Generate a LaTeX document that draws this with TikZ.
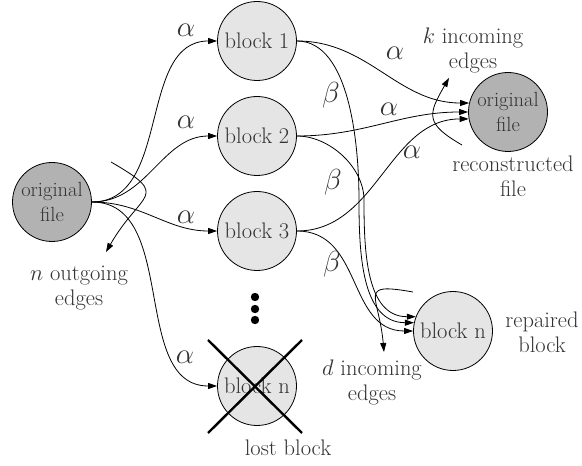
\RequirePackage{fix-cm}
\documentclass[tikz,border=0pt]{standalone}
\usetikzlibrary{arrows.meta, positioning}
\tikzset{>= {Triangle[length = 9pt, width = 6pt]},
         every node/.style = {text = black!80},
         block/.style = {circle, draw, line width = 0.8pt, fill = black!10,
                         minimum size = 79pt, inner sep = 0pt,
                         font = \fontsize{22.5}{25}\selectfont},
         file/.style = {block, fill = black!30, align = center,
                        font = \fontsize{20.5}{25}\selectfont},
         weight/.style = {font = \fontsize{29}{29}\selectfont},
         note/.style = {align = center, font = \fontsize{22.5}{25}\selectfont},
         flow/.style = {->, line width = 0.8pt},
         lost/.style = {line width = 2.4pt}}

\begin{document}
\begin{tikzpicture}[x = 1pt, y = 1pt]
    \useasboundingbox (0,0) rectangle (582,466);

    % blocks and files
    \node[file]  (src)    at (52,264)  {original\\file};
    \node[block] (b1)     at (257,425) {block 1};
    \node[block] (b2)     at (257,330) {block 2};
    \node[block] (b3)     at (257,235) {block 3};
    \node[block] (bn)     at (257,80)  {block n};
    \node[file]  (origR)  at (508,354) {original\\file};
    \node[block] (rep)    at (453,135) {block n};

    \foreach \y in {169, 157, 146}
        \fill (255,\y) circle (4.2);

    % outgoing edges
    \path[flow] (src.east) edge[out = 0, in = 180] (b1.west)
                (src.east) edge[out = 0, in = 180] (b2.west)
                (src.east) edge[out = 0, in = 180] (b3.west)
                (src.east) edge[out = 0, in = 180] (bn.west);

    % reconstruction
    \path[flow] (b1.east) edge[out = 0, in = 180] (origR.167)
                (b2.east) edge[out = 0, in = 180] (origR.180)
                (b3.east) edge[out = 0, in = 180] (origR.190);

    % repair
    \coordinate (via1) at (359,266);
    \coordinate (via2) at (364,266);
    \draw[flow] (b1.east) to[out = 0, in = 90, looseness = 0.8] (via1)
                          to[out = -90, in = 180]                (rep.168);
    \draw[flow] (b2.east) to[out = 0, in = 90, looseness = 0.9] (via2)
                          to[out = -90, in = 180]                (rep.159);
    \draw[flow] (b3.east) to[out = 0, in = 180, looseness = 1.1] (rep.180);

    \draw[lost] ([shift = {(-49,46)}]bn.center)  -- ([shift = {(45,-47)}]bn.center);
    \draw[lost] ([shift = {(-49,-47)}]bn.center) -- ([shift = {(45,46)}]bn.center);

    % edge counts
    \coordinate (nfrom) at (111,304);
    \coordinate (nto)   at (106,214);
    \coordinate (kfrom) at (462,321);
    \coordinate (kto)   at (449,388);
    \coordinate (dfrom) at (413,174);
    \coordinate (dto)   at (384,114);
    \draw[flow] (nfrom) to[out = -30, in = 60, looseness = 2]   (nto);
    \draw[flow] (kfrom) to[out = 150, in = -120, looseness = 1.6] (kto);
    \draw[flow] (dfrom) to[out = 170, in = 95, looseness = 2.2]  (dto);

    % weights
    \node[weight] (a1)  at (186,436) {$\alpha$};
    \node[weight] (a2)  at (186,344) {$\alpha$};
    \node[weight] (a3)  at (186,249) {$\alpha$};
    \node[weight] (an)  at (185,109) {$\alpha$};
    \node[weight] (ar1) at (395,413) {$\alpha$};
    \node[weight] (ar2) at (389,357) {$\alpha$};
    \node[weight] (ar3) at (412,314) {$\alpha$};
    \node[weight] (be1) at (331,371) {$\beta$};
    \node[weight] (be2) at (333,284) {$\beta$};
    \node[weight] (be3) at (332,202) {$\beta$};

    % notes
    \node[note] (nlbl)   at (79,178)  {$n$ outgoing\\edges};
    \node[note] (klbl)   at (473,416) {$k$ incoming\\edges};
    \node[note] (dlbl)   at (372,84)  {$d$ incoming\\edges};
    \node[note] (reclbl) at (513,290) {reconstructed\\file};
    \node[note] (replbl) at (542,134) {repaired\\block};
    \node[note] (lostlbl) at (288,18) {lost block};
\end{tikzpicture}
\end{document}
